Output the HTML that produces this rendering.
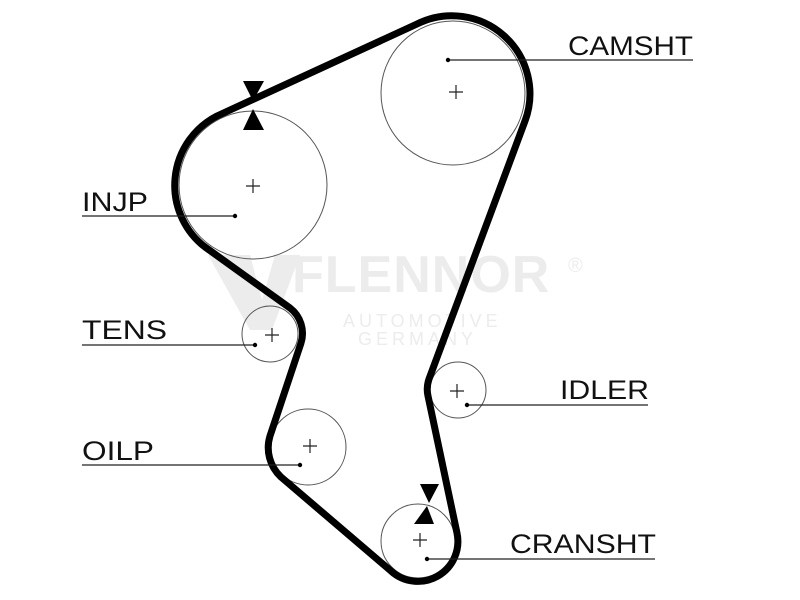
<!DOCTYPE html>
<html><head><style>html,body{margin:0;padding:0;background:#fff;width:800px;height:600px;overflow:hidden}</style></head>
<body>
<svg width="800" height="600" viewBox="0 0 800 600" xmlns="http://www.w3.org/2000/svg" font-family="Liberation Sans, sans-serif">
<!-- watermark -->
<g fill="#ececec">
<polygon points="208,255 250,255 262,300 275,255 300,255 272,330 250,330"/>
<text x="292" y="292" font-size="52" font-weight="bold" letter-spacing="1">FLENNOR</text>
<text x="568" y="272" font-size="20">®</text>
<text x="343" y="327" font-size="18" letter-spacing="4">AUTOMOTIVE</text>
<text x="358" y="345" font-size="18" letter-spacing="4">GERMANY</text>
</g>
<!-- pulleys -->
<g fill="none" stroke="#555" stroke-width="1">
<circle cx="453" cy="93" r="72"/>
<circle cx="253" cy="185" r="74"/>
<circle cx="270" cy="334" r="28"/>
<circle cx="308" cy="447" r="38"/>
<circle cx="458" cy="390" r="28"/>
<circle cx="418" cy="541" r="37"/>
</g>
<!-- crosses -->
<g stroke="#222" stroke-width="1.2">
<path d="M449,92h14M456,85v14"/>
<path d="M246,186h14M253,179v14"/>
<path d="M265,335h14M272,328v14"/>
<path d="M303,446h14M310,439v14"/>
<path d="M450,391h14M457,384v14"/>
<path d="M413,540h14M420,533v14"/>
</g>
<!-- belt -->
<path d="M217,116 L417,24 A78,78 0 0 1 525,121 L429,379 A31,31 0 0 0 428,396 L457,533 A40,40 0 0 1 391,571 L281,477 A40,40 0 0 1 270,436 L301,343 A32,32 0 0 0 290,308 L205,247 A78,78 0 0 1 217,116 Z" fill="none" stroke="#000" stroke-width="7" stroke-linejoin="round"/>
<!-- markers -->
<g fill="#000">
<polygon points="243,81 264,81 253,101"/>
<polygon points="253,109 243,130 264,130"/>
<polygon points="420,484 439,484 429,503"/>
<polygon points="427,506 414,524 434,524"/>
</g>
<!-- leader lines -->
<g stroke="#222" stroke-width="1.2">
<line x1="448" y1="60" x2="693" y2="60"/>
<line x1="82" y1="216" x2="235" y2="216"/>
<line x1="82" y1="345" x2="255" y2="345"/>
<line x1="82" y1="465" x2="300" y2="465"/>
<line x1="467" y1="405" x2="648" y2="405"/>
<line x1="427" y1="559" x2="655" y2="559"/>
</g>
<g fill="#000">
<circle cx="448" cy="60" r="2.2"/>
<circle cx="235" cy="216" r="2.2"/>
<circle cx="255" cy="345" r="2.2"/>
<circle cx="300" cy="465" r="2.2"/>
<circle cx="467" cy="405" r="2.2"/>
<circle cx="427" cy="559" r="2.2"/>
</g>
<g font-size="27" fill="#111">
<text x="568" y="55" textLength="125" lengthAdjust="spacingAndGlyphs">CAMSHT</text>
<text x="82" y="211" textLength="66" lengthAdjust="spacingAndGlyphs">INJP</text>
<text x="82" y="339" textLength="85" lengthAdjust="spacingAndGlyphs">TENS</text>
<text x="82" y="460" textLength="72" lengthAdjust="spacingAndGlyphs">OILP</text>
<text x="560" y="399" textLength="89" lengthAdjust="spacingAndGlyphs">IDLER</text>
<text x="510" y="553" textLength="146" lengthAdjust="spacingAndGlyphs">CRANSHT</text>
</g>
</svg>
</body></html>
